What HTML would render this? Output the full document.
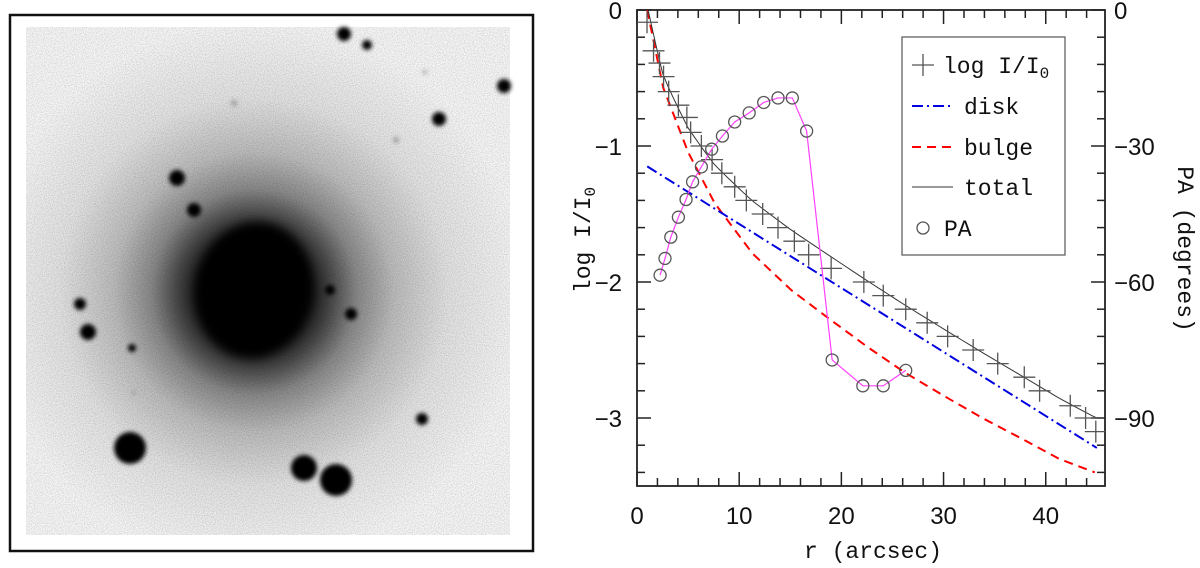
<!DOCTYPE html>
<html><head><meta charset="utf-8"><style>
html,body{margin:0;padding:0;background:#fff;width:1200px;height:568px;overflow:hidden}
svg{display:block}
.tk{font-family:"Liberation Sans",sans-serif;font-size:24px;fill:#111}
.lb{font-family:"Liberation Mono",monospace;font-size:23px;fill:#111}
</style></head><body>
<svg id="fig" width="1200" height="568" viewBox="0 0 1200 568">
<defs>
<filter id="noise" x="0" y="0" width="100%" height="100%">
<feTurbulence type="fractalNoise" baseFrequency="0.9" numOctaves="1" seed="3" result="t"/>
<feColorMatrix type="matrix" values="0 0 0 0 0  0 0 0 0 0  0 0 0 0 0  0 0 0 -1.2 0.75"/>
</filter>
<radialGradient id="halo" cx="254" cy="292" r="270" gradientUnits="userSpaceOnUse">
<stop offset="0" stop-color="#000"/>
<stop offset="0.2" stop-color="#111"/>
<stop offset="0.28" stop-color="#444"/>
<stop offset="0.38" stop-color="#888"/>
<stop offset="0.52" stop-color="#bcbcbc"/>
<stop offset="0.72" stop-color="#e2e2e2"/>
<stop offset="1" stop-color="#f6f6f6"/>
</radialGradient>
<filter id="blur2"><feGaussianBlur stdDeviation="2"/></filter>
<filter id="blur6"><feGaussianBlur stdDeviation="5"/></filter>
</defs>

<g>
<rect x="10" y="15" width="523" height="536" fill="#fff" stroke="#111" stroke-width="2.5"/>
<rect x="26" y="27" width="484" height="508" fill="url(#halo)"/>
<rect x="26" y="27" width="484" height="508" fill="#fff" filter="url(#noise)" opacity="0.3"/>
<ellipse cx="254" cy="290" rx="58" ry="68" fill="#000" filter="url(#blur6)" transform="rotate(10 254 290)"/>
<g id="stars" filter="url(#blur2)"></g>
</g>

<g id="chart"></g>
</svg>
<script>
// ---- chart data ----
const crossR = [0.98,1.62,2.2,2.6,3.1,4.05,4.88,5.25,6.3,7.35,8.3,9.56,10.7,12.3,13.8,15.4,16.8,19.0,22.2,24.1,26.3,28.4,30.4,32.9,35.3,37.9,39.4,42.4,43.9,44.9];
const crossLogI = [-0.09,-0.30,-0.39,-0.49,-0.60,-0.70,-0.79,-0.90,-1.00,-1.10,-1.20,-1.30,-1.40,-1.50,-1.60,-1.70,-1.80,-1.90,-2.00,-2.10,-2.20,-2.30,-2.40,-2.50,-2.60,-2.70,-2.80,-2.91,-3.00,-3.10];
const paR = [2.26,2.74,3.31,4.05,4.8,5.44,6.3,7.31,8.36,9.56,10.98,12.4,13.8,15.2,16.6,19.1,22.1,24.1,26.3];
const paDeg = [-58.5,-54.8,-50.1,-45.7,-41.8,-37.9,-34.6,-30.7,-27.8,-24.7,-22.7,-20.4,-19.4,-19.4,-26.7,-77.2,-82.9,-82.9,-79.5];
const diskR = [1,45];
const diskLogI = [-1.15,-3.22];
const bulgeR = [1.0,2.56,5.0,7.6,11.3,15.1,18.8,22.6,26.3,30.1,33.8,37.6,41.3,44.8];
const bulgeLogI = [0,-0.57,-1.045,-1.42,-1.79,-2.06,-2.27,-2.48,-2.67,-2.84,-3.0,-3.15,-3.30,-3.40];
const xTicks = [0,10,20,30,40];
const yTicks = [0,-1,-2,-3];
const paTicks = [0,-30,-60,-90];

const NS = "http://www.w3.org/2000/svg";
const L=637,R=1105,T=10,B=486;
const xMin=0,xMax=45.8,yMin=-3.5,yMax=0;
const X=v=>L+(v-xMin)/(xMax-xMin)*(R-L);
const Y=v=>T+(yMax-v)/(yMax-yMin)*(B-T);
const YPA=v=>Y(v/30);
const chart=document.getElementById('chart');
function mk(tag,attrs,parent){const e=document.createElementNS(NS,tag);for(const k in attrs)e.setAttribute(k,attrs[k]);(parent||chart).appendChild(e);return e;}
function interp(xs,ys,x){if(x<=xs[0])return ys[0];for(let i=1;i<xs.length;i++){if(x<=xs[i]){const t=(x-xs[i-1])/(xs[i]-xs[i-1]);return ys[i-1]+t*(ys[i]-ys[i-1]);}}return ys[ys.length-1];}

// ticks
const tg=mk('g',{stroke:'#222','stroke-width':1.5});


for(let v=0;v<=xMax;v+=2){const x=X(v);const len=(v%10===0)?14:8;
 mk('line',{x1:x,y1:B,x2:x,y2:B-len},tg);mk('line',{x1:x,y1:T,x2:x,y2:T+len},tg);}
for(let i=0;i<=17;i++){const v=-i*0.2;const y=Y(v);const len=(i%5===0)?14:8;
 mk('line',{x1:L,y1:y,x2:L+len,y2:y},tg);mk('line',{x1:R,y1:y,x2:R-len,y2:y},tg);}
const frame=mk('rect',{x:L,y:T,width:R-L,height:B-T,fill:'none',stroke:'#222','stroke-width':1.8});



xTicks.forEach(v=>{const t=mk('text',{x:X(v),y:524,'text-anchor':'middle',class:'tk'});t.textContent=v;
 
 });
yTicks.forEach(v=>{const t=mk('text',{x:622,y:Y(v)+9,'text-anchor':'end',class:'tk'});t.textContent=v===0?'0':'\u2212'+Math.abs(v);
 
 });
paTicks.forEach(v=>{const t=mk('text',{x:1114,y:YPA(v)+9,'text-anchor':'start',class:'tk'});t.textContent=v===0?'0':'\u2212'+Math.abs(v);
 
 });

let t=mk('text',{x:873,y:558,'text-anchor':'middle',class:'lb'});t.textContent='r (arcsec)';


t=mk('text',{x:0,y:0,'text-anchor':'middle',class:'lb',transform:'translate(590,240) rotate(-90)'});
t.innerHTML='log I/I<tspan font-size="16" dy="5">0</tspan>';


t=mk('text',{x:0,y:0,'text-anchor':'middle',class:'lb',transform:'translate(1178,249) rotate(90)'});t.textContent='PA (degrees)';



// clip
const cp=mk('clipPath',{id:'pc'});mk('rect',{x:L,y:T,width:R-L,height:B-T},cp);
const pg=mk('g',{'clip-path':'url(#pc)'});



// bulge
let d='';for(let i=0;i<bulgeR.length;i++)d+=(i?'L':'M')+X(bulgeR[i])+' '+Y(bulgeLogI[i]);
let p=mk('path',{d:d,fill:'none',stroke:'#f00','stroke-width':2,'stroke-dasharray':'9 6'},pg);


// disk
d='M'+X(diskR[0])+' '+Y(diskLogI[0])+'L'+X(diskR[1])+' '+Y(diskLogI[1]);
p=mk('path',{d:d,fill:'none',stroke:'#0000e0','stroke-width':2,'stroke-dasharray':'11 4 2 4'},pg);


// total
d='';for(let i=0;i<=88;i++){const r=1+i*0.5;const v=Math.log10(Math.pow(10,interp(diskR,diskLogI,r))+Math.pow(10,interp(bulgeR,bulgeLogI,r)));d+=(i?'L':'M')+X(r)+' '+Y(v);}
p=mk('path',{d:d,fill:'none',stroke:'#333','stroke-width':1},pg);


// crosses
crossR.forEach((r,i)=>{const x=X(r),y=Y(crossLogI[i]);
 const c=mk('path',{d:`M${x-11} ${y}H${x+11}M${x} ${y-11}V${y+11}`,stroke:'#555','stroke-width':1.3},pg);
 
 });
// PA
d='';paR.forEach((r,i)=>{d+=(i?'L':'M')+X(r)+' '+YPA(paDeg[i]);});
p=mk('path',{d:d,fill:'none',stroke:'#ff40ff','stroke-width':1.2},pg);


paR.forEach((r,i)=>{const c=mk('circle',{cx:X(r),cy:YPA(paDeg[i]),r:6,fill:'none',stroke:'#555','stroke-width':1.3},pg);
 
 });

// legend
const lg=mk('g',{});


mk('rect',{x:902,y:37,width:163,height:218,fill:'#fff',stroke:'#555','stroke-width':1.2},lg);
mk('path',{d:'M912 65H934M923 54V76',stroke:'#555','stroke-width':1.3},lg);
t=mk('text',{x:943,y:73,class:'lb'},lg);t.innerHTML='log I/I<tspan font-size="16" dy="5">0</tspan>';
mk('line',{x1:912,y1:106,x2:953,y2:106,stroke:'#0000e0','stroke-width':2,'stroke-dasharray':'11 4 2 4'},lg);
t=mk('text',{x:964,y:114,class:'lb'},lg);t.textContent='disk';
mk('line',{x1:912,y1:147,x2:953,y2:147,stroke:'#f00','stroke-width':2,'stroke-dasharray':'9 6'},lg);
t=mk('text',{x:964,y:155,class:'lb'},lg);t.textContent='bulge';
mk('line',{x1:912,y1:187,x2:953,y2:187,stroke:'#333','stroke-width':1},lg);
t=mk('text',{x:964,y:195,class:'lb'},lg);t.textContent='total';
mk('circle',{cx:923,cy:228,r:6,fill:'none',stroke:'#555','stroke-width':1.3},lg);
t=mk('text',{x:944,y:236,class:'lb'},lg);t.textContent='PA';

// stars in image
const stars=[[344,34,7],[367,45,5],[504,86,7],[439,119,7],[177,178,8],[194,210,7],[80,304,6],[88,332,8],[132,348,4],[330,290,5],[351,314,6],[422,419,6],[130,448,16],[304,468,13],[336,480,16],[425,72,2],[234,103,3],[396,140,3],[134,393,2]];
const sg=document.getElementById('stars');
stars.forEach(s=>{const c=document.createElementNS(NS,'circle');c.setAttribute('cx',s[0]);c.setAttribute('cy',s[1]);c.setAttribute('r',s[2]);c.setAttribute('fill',s[2]<4?'#999':'#000');
 
 
 sg.appendChild(c);});
</script>
</body></html>
